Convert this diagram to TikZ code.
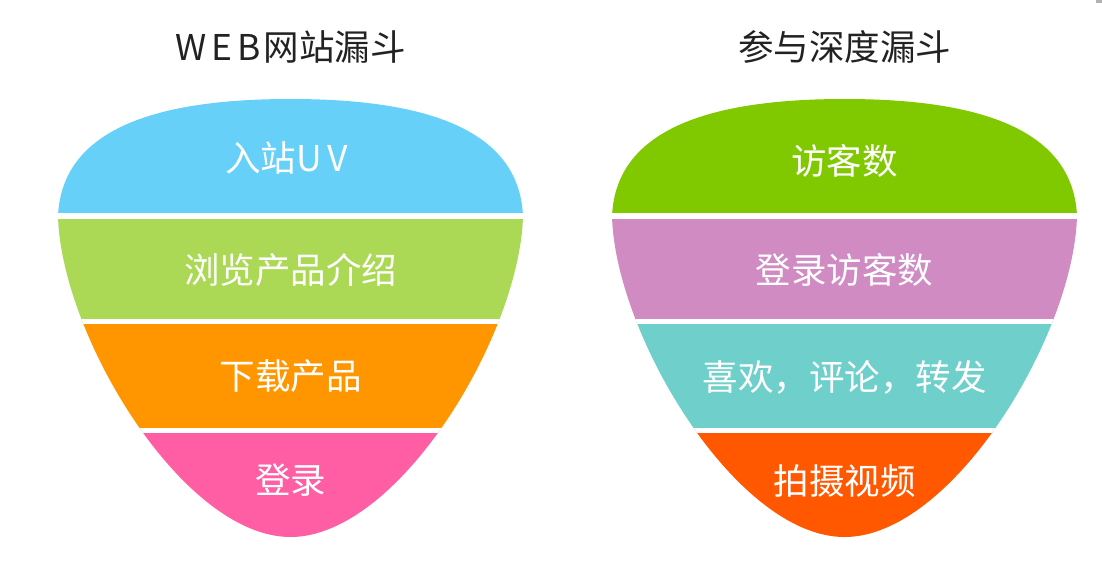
\documentclass[tikz,border=0pt]{standalone}
\usepackage{fontspec}
\newfontfamily\cjk{Noto Sans CJK SC}
\definecolor{cBlue}{RGB}{102,208,248}
\definecolor{cLime}{RGB}{171,217,85}
\definecolor{cOrange}{RGB}{255,150,0}
\definecolor{cPink}{RGB}{255,94,165}
\definecolor{cGreen}{RGB}{128,200,0}
\definecolor{cPurple}{RGB}{207,139,194}
\definecolor{cTeal}{RGB}{111,207,203}
\definecolor{cRed}{RGB}{255,88,0}
\definecolor{cTitle}{RGB}{34,34,34}
\tikzset{
  lab/.style={text=white, font=\cjk\fontsize{35.5}{38}\selectfont, inner sep=0pt, anchor=center},
  ttl/.style={text=cTitle, font=\cjk\fontsize{35.5}{38}\selectfont, inner sep=0pt, anchor=center},
  gapline/.style={draw=white, line width=5.5pt}
}
\newcommand\funneloutline{(-232.5,216) .. controls (-228.5,125) and (-125.5,99) .. (0,99)
  .. controls (125.5,99) and (228.5,125) .. (232.5,216)
  .. controls (229.5,335) and (108,537) .. (0,537)
  .. controls (-108,537) and (-229.5,335) .. (-232.5,216) -- cycle}
\newcommand\funnelfill[4]{%
  \begin{scope}
    \clip \funneloutline;
    \fill[#1] (-240,90) rectangle (240,216);
    \fill[#2] (-240,216) rectangle (240,321.5);
    \fill[#3] (-240,321.5) rectangle (240,430.5);
    \fill[#4] (-240,430.5) rectangle (240,545);
    \draw[gapline] (-240,216) -- (240,216);
    \draw[gapline] (-240,321.5) -- (240,321.5);
    \draw[gapline] (-240,430.5) -- (240,430.5);
  \end{scope}}
\begin{document}
\begin{tikzpicture}[x=1pt,y=-1pt]
\useasboundingbox (0,0) rectangle (1102,562);
\fill[black!30] (1096,0) rectangle (1102,3);
% left funnel
\begin{scope}[xshift=290.5pt]
  \funnelfill{cBlue}{cLime}{cOrange}{cPink}
  \node[ttl] (t1) at (0,47) {W\kern5pt E\kern5pt B\kern3pt 网站漏斗};
  \node[lab] (a1) at (-4,158) {入站U\kern5pt V};
  \node[lab] (a2) at (0,270) {浏览产品介绍};
  \node[lab] (a3) at (0,376) {下载产品};
  \node[lab] (a4) at (0,480) {登录};
\end{scope}
% right funnel
\begin{scope}[xshift=844.5pt]
  \funnelfill{cGreen}{cPurple}{cTeal}{cRed}
  \node[ttl] (t2) at (0,47) {参与深度漏斗};
  \node[lab] (b1) at (0,161) {访客数};
  \node[lab] (b2) at (0,270) {登录访客数};
  \node[lab] (b3) at (0,377) {喜欢，评论，转发};
  \node[lab] (b4) at (0,481) {拍摄视频};
\end{scope}
\end{tikzpicture}
\end{document}
